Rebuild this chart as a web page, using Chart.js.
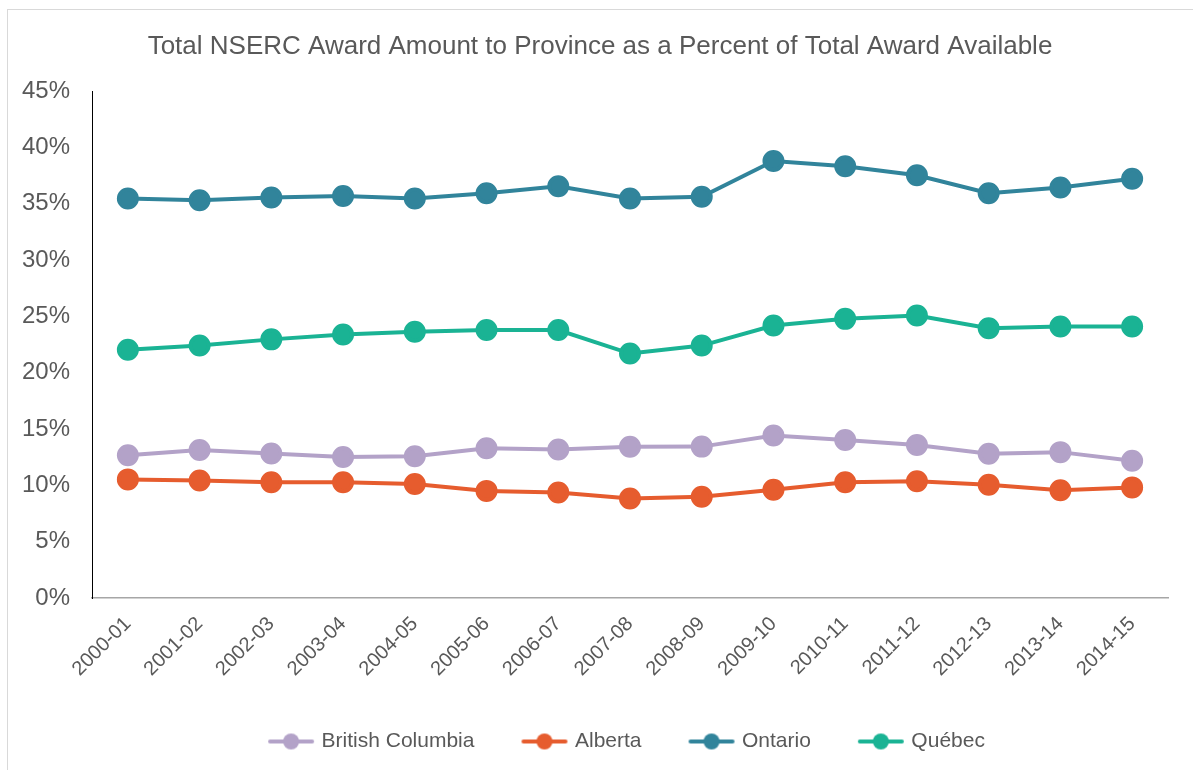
<!DOCTYPE html>
<html>
<head>
<meta charset="utf-8">
<script src="https://cdn.jsdelivr.net/npm/chart.js@4.4.1/dist/chart.umd.min.js"></script>
<style>
  html, body { margin: 0; padding: 0; background: #fff; }
  #wrap { position: relative; width: 1196px; height: 770px; }
  #frame { position: absolute; left: 7px; top: 9px; width: 1186px; height: 770px;
           border-left: 1px solid #d9d9d9; border-top: 1px solid #d9d9d9; box-sizing: border-box; }
  canvas { position: absolute; left: 0; top: 0; }
</style>
</head>
<body>
<div id="wrap">
  <div id="frame"></div>
  <canvas id="c" width="1196" height="770"></canvas>
</div>
<script>
const categories = ["2000-01","2001-02","2002-03","2003-04","2004-05","2005-06","2006-07","2007-08","2008-09","2009-10","2010-11","2011-12","2012-13","2013-14","2014-15"];
const britishColumbia = [12.69,13.15,12.84,12.53,12.60,13.30,13.20,13.43,13.45,14.43,14.03,13.60,12.81,12.96,12.19];
const alberta = [10.54,10.44,10.29,10.29,10.13,9.52,9.37,8.84,9.00,9.62,10.29,10.37,10.07,9.58,9.83];
const ontario = [35.48,35.32,35.56,35.69,35.48,35.94,36.56,35.48,35.63,38.80,38.33,37.54,35.94,36.46,37.23];
const quebec = [22.05,22.42,22.97,23.41,23.65,23.80,23.80,21.71,22.42,24.20,24.79,25.09,23.96,24.11,24.11];
const seriesNames = ["British Columbia","Alberta","Ontario","Québec"];
const yTicks = [0,5,10,15,20,25,30,35,40,45];
const titleText = "Total NSERC Award Amount to Province as a Percent of Total Award Available";

const colors = ["#b3a2c8","#e65c2e","#31849b","#1ab394"];
const seriesData = [britishColumbia, alberta, ontario, quebec];

function legendIcon(color) {
  const cv = document.createElement('canvas');
  cv.width = 48; cv.height = 18;
  const g = cv.getContext('2d');
  g.strokeStyle = color; g.lineWidth = 4; g.lineCap = 'round';
  g.beginPath(); g.moveTo(3, 9); g.lineTo(45, 9); g.stroke();
  g.fillStyle = color;
  g.beginPath(); g.arc(24, 9, 8, 0, Math.PI * 2); g.fill();
  return cv;
}

const FONT = "'Liberation Sans', Arial, sans-serif";

const boxShift = {
  id: 'boxShift',
  afterLayout(chart) {
    if (chart.legend) {
      chart.legend.left += 44; chart.legend.right += 44;
      chart.legend.top -= 14; chart.legend.bottom -= 14;
    }
    if (chart.titleBlock) { chart.titleBlock.left += 16; chart.titleBlock.right += 16; }
  }
};

new Chart(document.getElementById('c'), {
  type: 'line',
  data: {
    labels: categories,
    datasets: seriesData.map((d, i) => ({
      label: seriesNames[i],
      data: d,
      borderColor: colors[i],
      backgroundColor: colors[i],
      pointBackgroundColor: colors[i],
      pointBorderColor: colors[i],
      pointRadius: 9,
      pointHoverRadius: 9,
      borderWidth: 4,
      pointStyle: 'circle',
      tension: 0,
      fill: false
    }))
  },
  plugins: [boxShift],
  options: {
    responsive: false,
    animation: false,
    layout: { padding: { left: 0, right: 28, top: 0, bottom: -6 } },
    plugins: {
      title: {
        display: true,
        text: titleText,
        color: '#595959',
        font: { family: FONT, size: 26, weight: 'normal' },
        padding: { top: 31, bottom: 29 }
      },
      legend: {
        position: 'bottom',
        labels: {
          usePointStyle: true,
          pointStyleWidth: 40,
          generateLabels: (chart) => chart.data.datasets.map((ds, i) => ({
            text: ds.label,
            pointStyle: legendIcon(colors[i]),
            fillStyle: colors[i],
            strokeStyle: colors[i],
            fontColor: '#595959',
            lineWidth: 0,
            hidden: false,
            datasetIndex: i
          })),
          color: '#595959',
          font: { family: FONT, size: 21 },
          padding: 50
        }
      },
      tooltip: { enabled: false }
    },
    scales: {
      x: {
        offset: true,
        grid: { display: false, drawTicks: false },
        border: { display: true, color: '#a6a6a6', width: 1.5 },
        ticks: {
          color: '#595959',
          font: { family: FONT, size: 20 },
          maxRotation: 45, minRotation: 45,
          padding: 14,
          autoSkip: false
        }
      },
      y: {
        min: 0, max: 45,
        afterBuildTicks: (scale) => { scale.ticks = yTicks.map(v => ({ value: v })); },
        afterFit: (scale) => { scale.width = 92; },
        grid: { display: false, drawTicks: false },
        border: { display: true, color: '#000000', width: 1 },
        ticks: {
          color: '#595959',
          font: { family: FONT, size: 24 },
          padding: 22,
          callback: (v) => v + '%'
        }
      }
    }
  }
});
</script>
</body>
</html>
